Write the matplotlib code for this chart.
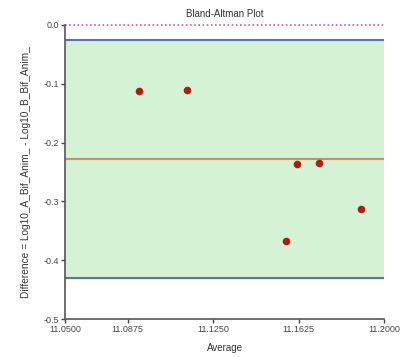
import matplotlib
matplotlib.use("Agg")
import matplotlib.pyplot as plt

plt.rcParams['font.family'] = ['Liberation Sans', 'DejaVu Sans']

average = [11.0925, 11.1135, 11.1617, 11.1715, 11.1899, 11.1570]
difference = [-0.1122, -0.1105, -0.2370, -0.2342, -0.3124, -0.3673]
mean_diff = -0.2285
upper_loa = -0.0255
lower_loa = -0.4297
xticks = [11.06, 11.0875, 11.125, 11.1625, 11.2]
xticklabels = ["11.0500", "11.0875", "11.1250", "11.1625", "11.2000"]
yticks = [0.0, -0.1, -0.2, -0.3, -0.4, -0.5]
yticklabels = ["0.0", "-0.1", "-0.2", "-0.3", "-0.4", "-0.5"]

fig = plt.figure(figsize=(4.01, 3.57), dpi=100)
ax = fig.add_axes([0.162, 0.106, 0.796, 0.824])
ax.set_xlim(11.06, 11.2)
ax.set_ylim(-0.5, 0.0)

ax.axhspan(lower_loa, upper_loa, color='#d4f2d4', zorder=0)
ax.axhline(upper_loa, color='#5b6fbf', lw=1.5, zorder=1)
ax.axhline(lower_loa, color='#5b6fbf', lw=1.5, zorder=1)
ax.axhline(mean_diff, color='#d98a5a', lw=1.5, zorder=1)
ax.axhline(0.0, color='#d85a9a', lw=1.2, ls=(0, (1, 1.5)), zorder=1, clip_on=False)
ax.scatter(average, difference, s=20, color='#b01c10', zorder=3)

for s in ['top', 'right']:
    ax.spines[s].set_visible(False)
for s in ['left', 'bottom']:
    ax.spines[s].set_color('#555555')
    ax.spines[s].set_linewidth(1.2)

ax.set_xticks(xticks)
ax.set_xticklabels(xticklabels)
ax.set_yticks(yticks)
ax.set_yticklabels(yticklabels)
ax.tick_params(labelsize=6.5, colors='#444444', length=3, width=1, pad=1.5)

ax.set_title("Bland-Altman Plot", fontsize=7, color='#333333', pad=6)
ax.set_xlabel("Average", fontsize=7, color='#333333', labelpad=6)
ax.set_ylabel("Difference = Log10_A_Bif_Anim_ - Log10_B_Bif_Anim_", fontsize=7.3, color='#333333', labelpad=9)

fig.savefig("out.png", dpi=100)
